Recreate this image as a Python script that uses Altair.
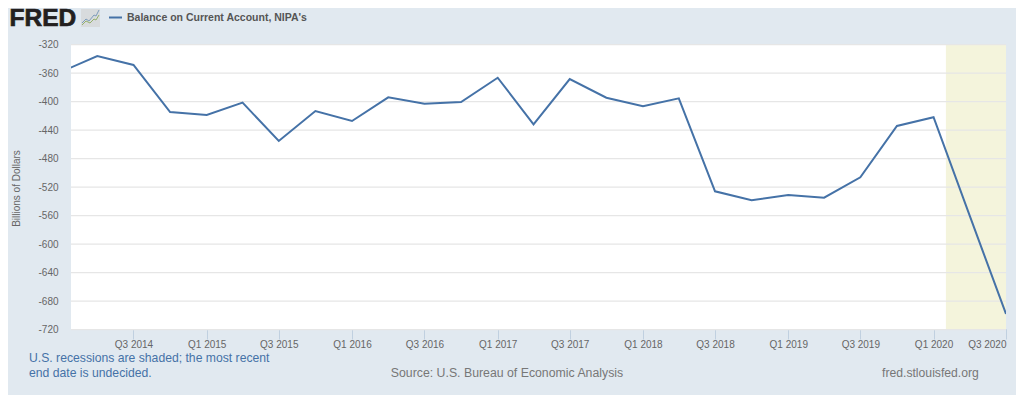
import altair as alt
import pandas as pd

BG = "#E1E9F0"
LINE = "#4572A7"
GREY = "#666666"

# ---- chart values ----
quarters = ["2014-01-01", "2014-04-01", "2014-07-01", "2014-10-01",
            "2015-01-01", "2015-04-01", "2015-07-01", "2015-10-01",
            "2016-01-01", "2016-04-01", "2016-07-01", "2016-10-01",
            "2017-01-01", "2017-04-01", "2017-07-01", "2017-10-01",
            "2018-01-01", "2018-04-01", "2018-07-01", "2018-10-01",
            "2019-01-01", "2019-04-01", "2019-07-01", "2019-10-01",
            "2020-01-01", "2020-04-01", "2020-07-01"]
balance = [-358, -336, -348.6, -414.6,
           -418.8, -401.5, -455.3, -413.2,
           -427.2, -394, -403, -400.6,
           -366.5, -431.9, -368.3, -394.5,
           -406.6, -395.4, -525.9, -538.5,
           -531, -534.9, -506.2, -434.2,
           -422, -560.5, -698.1]
x_ticks = ["2014-07-01", "2015-01-01", "2015-07-01", "2016-01-01", "2016-07-01",
           "2017-01-01", "2017-07-01", "2018-01-01", "2018-07-01", "2019-01-01",
           "2019-07-01", "2020-01-01", "2020-07-01"]
y_ticks = [-320, -360, -400, -440, -480, -520, -560, -600, -640, -680, -720]
axis_start = "2014-01-25"
axis_end = "2020-07-01"
recession_start = ["2020-02-01"]
recession_end = [axis_end]


def ms(d):
    return int(pd.Timestamp(d, tz="UTC").timestamp() * 1000)


x_scale = alt.Scale(type="utc", domain=[ms(axis_start), ms(axis_end)], nice=False)
y_scale = alt.Scale(domain=[-720, -320], range=[285.6, 0.6], nice=False, zero=False)

df = pd.DataFrame({"date": quarters, "value": balance})
rec = pd.DataFrame({"start": recession_start, "end": recession_end})
grid = pd.DataFrame({"v": y_ticks})

x_axis = alt.Axis(
    values=[ms(t) for t in x_ticks],
    format="Q%q %Y",
    grid=False,
    labelOverlap=False,
    labelBound=False,
    labelFlush=False,
    labelColor=GREY,
    labelFont="Liberation Sans",
    labelFontSize=10,
    labelPadding=0,
    tickColor="#C0D0E0",
    tickSize=10,
    domainColor="#C0D0E0",
    labelAlign={
        "condition": {"test": f"datum.value >= {ms(axis_end)}", "value": "right"},
        "value": "center",
    },
)
y_axis = alt.Axis(
    values=y_ticks,
    labelExpr="'' + datum.value",
    grid=False,
    domain=False,
    ticks=False,
    labelOverlap=False,
    labelBound=False,
    labelFlush=False,
    labelSeparation=0,
    labelColor=GREY,
    labelFont="Liberation Sans",
    labelFontSize=10,
    labelPadding=13,
)

recession = alt.Chart(rec).mark_rect(color="#F4F4DC").encode(
    x=alt.X("start:T", scale=x_scale, title=None, axis=x_axis),
    x2="end:T",
    y=alt.value(0),
    y2=alt.value(285),
)

gridlines = alt.Chart(grid).mark_rule(color="#E6E6E6", strokeWidth=1.2).encode(
    y=alt.Y("v:Q", scale=y_scale, title=None, axis=y_axis),
)

line = alt.Chart(df).mark_line(color=LINE, strokeWidth=2, clip=True).encode(
    x=alt.X("date:T", scale=x_scale, title=None, axis=x_axis),
    y=alt.Y("value:Q", scale=y_scale, title=None, axis=y_axis),
)


def px_x(v):
    return alt.value(v - 71)


def px_y(v):
    return alt.value(v - 44)


def label(text, x, y, size, color, align="left", weight="normal", angle=0, font="Liberation Sans", **kw):
    return alt.Chart(alt.Data(values=[{}])).mark_text(
        align=align, baseline="middle", fontSize=size, color=color,
        fontWeight=weight, angle=angle, font=font, **kw
    ).encode(x=px_x(x), y=px_y(y), text=alt.value(text))


def seg(x1, y1, x2, y2, color, width):
    return alt.Chart(alt.Data(values=[{}])).mark_rule(color=color, strokeWidth=width).encode(
        x=px_x(x1), x2=px_x(x2), y=px_y(y1), y2=px_y(y2)
    )


icon_box = alt.Chart(alt.Data(values=[{}])).mark_rect(color="#D8DBDD").encode(
    x=px_x(81), x2=px_x(100), y=px_y(9), y2=px_y(27)
)
icon_blue = [(82, 23, 86, 19), (86, 19, 89, 21), (89, 21, 94, 15), (94, 15, 96, 16), (96, 16, 99, 10)]
icon_green = [(82, 25, 86, 21), (86, 21, 90, 23), (90, 23, 94, 19), (94, 19, 96, 20), (96, 20, 99, 15)]

overlays = [
    label("FRED", 9.5, 19, 24.5, "#231F20", weight="bold", stroke="#231F20", strokeWidth=0.7),
    icon_box,
    *[seg(*s, "#7D9CBB", 1) for s in icon_blue],
    *[seg(*s, "#94B06B", 1) for s in icon_green],
    seg(109, 17.5, 122, 17.5, LINE, 2),
    label("Balance on Current Account, NIPA's", 127, 17.5, 10.5, "#555555", weight="bold"),
    label("Billions of Dollars", 17, 188.5, 10, GREY, align="center", angle=270),
    label("U.S. recessions are shaded; the most recent", 29, 358, 12.2, "#4572A7"),
    label("end date is undecided.", 29, 373, 12.2, "#4572A7"),
    label("Source: U.S. Bureau of Economic Analysis", 507, 372.5, 12.3, "#777777", align="center"),
    label("fred.stlouisfed.org", 882, 373, 12.2, "#777777"),
]

chart = alt.layer(recession, gridlines, line, *overlays).resolve_scale(
    x="shared", y="shared"
).properties(
    width=935,
    height=285,
    background=BG,
    padding={"left": 63, "top": 36, "right": 10, "bottom": 66},
    autosize=alt.AutoSizeParams(type="none"),
).configure_view(fill="white", strokeWidth=0).configure_axis(labelOverlap=False)

chart.save("out.html", embed_options={"renderer": "svg", "actions": False})
